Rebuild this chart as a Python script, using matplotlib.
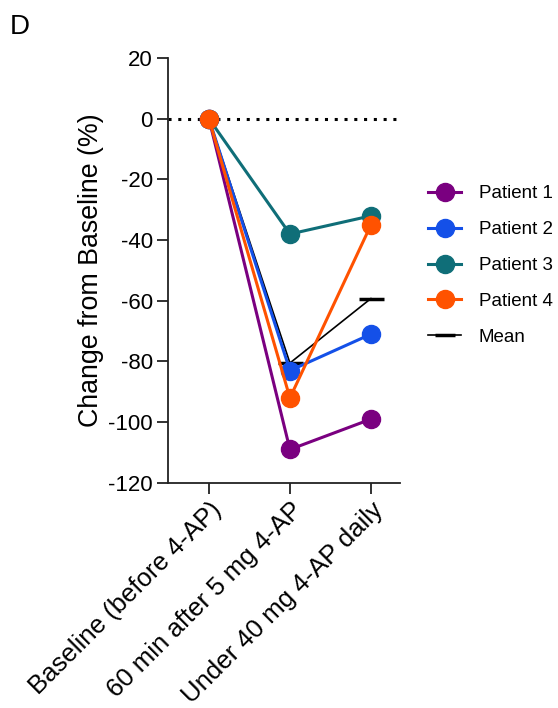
import matplotlib.pyplot as plt
import numpy as np

plt.rcParams['font.family'] = ['Liberation Sans', 'DejaVu Sans']
plt.rcParams['axes.unicode_minus'] = False

timepoints = ['Baseline (before 4-AP)', '60 min after 5 mg 4-AP', 'Under 40 mg 4-AP daily']
patient_1 = [0, -109, -99]
patient_2 = [0, -83, -71]
patient_3 = [0, -38, -32]
patient_4 = [0, -92, -35]
mean_vals = [0, -80.5, -59.25]

series = [
    ('Patient 1', patient_1, '#7a0080'),
    ('Patient 2', patient_2, '#1450e8'),
    ('Patient 3', patient_3, '#0f6e78'),
    ('Patient 4', patient_4, '#ff5200'),
]

fig = plt.figure(figsize=(5.58, 7.08), dpi=100)
ax = fig.add_axes([0.301, 0.318, 0.416, 0.6])

x = np.arange(len(timepoints))

ax.axhline(0, color='black', linestyle=(0, (1, 2.2)), linewidth=2.2, zorder=1)

# mean line goes behind the patients
ax.plot(x, mean_vals, color='black', linewidth=1.2, zorder=2)
ax.plot(x[1:], mean_vals[1:], linestyle='none', marker='_', markersize=18,
        markeredgewidth=2.5, color='black', zorder=2)

for name, vals, col in series:
    ax.plot(x, vals, color=col, linewidth=2.2, marker='o', markersize=13,
            label=name, zorder=3)
# mean legend handle
ax.plot([], [], color='black', linewidth=1.2, marker='_', markersize=14,
        markeredgewidth=2.5, label='Mean')

ax.set_xlim(-0.506, 2.36)
ax.set_ylim(-120, 20)
ax.set_yticks(range(-120, 21, 20))
ax.set_xticks(x)
ax.set_xticklabels(timepoints, rotation=45, ha='right', rotation_mode='anchor',
                   fontsize=18.5)
ax.set_ylabel('Change from Baseline (%)', fontsize=19.3, labelpad=3)

for side in ['top', 'right']:
    ax.spines[side].set_visible(False)
for side in ['left', 'bottom']:
    ax.spines[side].set_linewidth(1.3)
    ax.spines[side].set_color('#222222')
ax.tick_params(axis='both', length=8, width=1.3, color='#222222', pad=3)
ax.tick_params(axis='y', labelsize=16)

fig.legend(loc='center left', bbox_to_anchor=(0.737, 0.625), frameon=False, fontsize=13.5,
           handlelength=1.75, labelspacing=1.0, handletextpad=0.95)

fig.text(0.018, 0.962, 'D', fontsize=20, va='center')

fig.savefig('out.png', dpi=100)
